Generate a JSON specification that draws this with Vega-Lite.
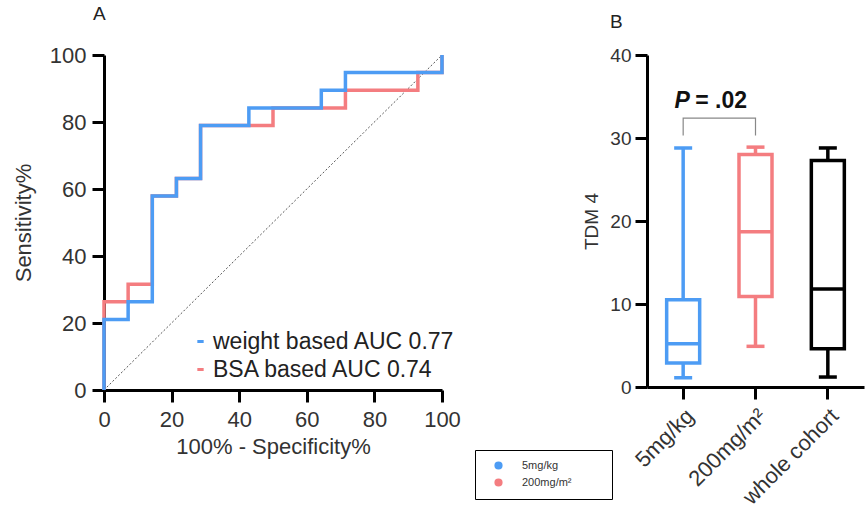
{
  "$schema": "https://vega.github.io/schema/vega-lite/v6.json",
  "background": "white",
  "padding": {"left": 12, "top": 5, "right": 5, "bottom": 5},
  "config": {
    "font": "Liberation Sans",
    "view": {"stroke": null},
    "axis": {
      "domainColor": "black", "domainWidth": 3, "tickColor": "black", "tickWidth": 3, "tickSize": 12,
      "labelColor": "#333", "titleColor": "#333", "grid": false, "titleFontWeight": "normal"
    }
  },
  "datasets": {
    "diag": [{"x": 0, "y": 0, "x2": 100, "y2": 100}],
    "roc": [
      {"s": "weight based AUC 0.77", "i": 0, "x": 0, "y": 0},
      {"s": "weight based AUC 0.77", "i": 1, "x": 0, "y": 21.05},
      {"s": "weight based AUC 0.77", "i": 2, "x": 7.14, "y": 21.05},
      {"s": "weight based AUC 0.77", "i": 3, "x": 7.14, "y": 26.32},
      {"s": "weight based AUC 0.77", "i": 4, "x": 14.29, "y": 26.32},
      {"s": "weight based AUC 0.77", "i": 5, "x": 14.29, "y": 57.89},
      {"s": "weight based AUC 0.77", "i": 6, "x": 21.43, "y": 57.89},
      {"s": "weight based AUC 0.77", "i": 7, "x": 21.43, "y": 63.16},
      {"s": "weight based AUC 0.77", "i": 8, "x": 28.57, "y": 63.16},
      {"s": "weight based AUC 0.77", "i": 9, "x": 28.57, "y": 78.95},
      {"s": "weight based AUC 0.77", "i": 10, "x": 42.86, "y": 78.95},
      {"s": "weight based AUC 0.77", "i": 11, "x": 42.86, "y": 84.21},
      {"s": "weight based AUC 0.77", "i": 12, "x": 64.29, "y": 84.21},
      {"s": "weight based AUC 0.77", "i": 13, "x": 64.29, "y": 89.47},
      {"s": "weight based AUC 0.77", "i": 14, "x": 71.43, "y": 89.47},
      {"s": "weight based AUC 0.77", "i": 15, "x": 71.43, "y": 94.74},
      {"s": "weight based AUC 0.77", "i": 16, "x": 100, "y": 94.74},
      {"s": "weight based AUC 0.77", "i": 17, "x": 100, "y": 100},
      {"s": "BSA based AUC 0.74", "i": 0, "x": 0, "y": 0},
      {"s": "BSA based AUC 0.74", "i": 1, "x": 0, "y": 26.32},
      {"s": "BSA based AUC 0.74", "i": 2, "x": 7.14, "y": 26.32},
      {"s": "BSA based AUC 0.74", "i": 3, "x": 7.14, "y": 31.58},
      {"s": "BSA based AUC 0.74", "i": 4, "x": 14.29, "y": 31.58},
      {"s": "BSA based AUC 0.74", "i": 5, "x": 14.29, "y": 57.89},
      {"s": "BSA based AUC 0.74", "i": 6, "x": 21.43, "y": 57.89},
      {"s": "BSA based AUC 0.74", "i": 7, "x": 21.43, "y": 63.16},
      {"s": "BSA based AUC 0.74", "i": 8, "x": 28.57, "y": 63.16},
      {"s": "BSA based AUC 0.74", "i": 9, "x": 28.57, "y": 78.95},
      {"s": "BSA based AUC 0.74", "i": 10, "x": 50, "y": 78.95},
      {"s": "BSA based AUC 0.74", "i": 11, "x": 50, "y": 84.21},
      {"s": "BSA based AUC 0.74", "i": 12, "x": 71.43, "y": 84.21},
      {"s": "BSA based AUC 0.74", "i": 13, "x": 71.43, "y": 89.47},
      {"s": "BSA based AUC 0.74", "i": 14, "x": 92.86, "y": 89.47},
      {"s": "BSA based AUC 0.74", "i": 15, "x": 92.86, "y": 94.74},
      {"s": "BSA based AUC 0.74", "i": 16, "x": 100, "y": 94.74},
      {"s": "BSA based AUC 0.74", "i": 17, "x": 100, "y": 100}
    ],
    "box": [
      {"g": "5mg/kg", "min": 1.1, "q1": 2.9, "median": 5.2, "q3": 10.5, "max": 28.8},
      {"g": "200mg/m²", "min": 4.9, "q1": 10.9, "median": 18.7, "q3": 28.0, "max": 28.9},
      {"g": "whole cohort", "min": 1.2, "q1": 4.6, "median": 11.8, "q3": 27.3, "max": 28.8}
    ],
    "bracket": [
      {"g": "5mg/kg", "v": 30.3, "o": 1},
      {"g": "5mg/kg", "v": 32.4, "o": 2},
      {"g": "200mg/m²", "v": 32.4, "o": 3},
      {"g": "200mg/m²", "v": 30.3, "o": 4}
    ],
    "ptext": [{"g": "5mg/kg", "v": 34.4}]
  },
  "spacing": 205,
  "bounds": "flush",
  "resolve": {"scale": {"color": "independent", "x": "independent", "y": "independent"}, "legend": {"color": "independent"}},
  "hconcat": [
    {
      "width": 338,
      "height": 335,
      "title": {"text": "A", "anchor": "start", "frame": "group", "dx": -11, "offset": 20, "fontSize": 19, "fontWeight": "normal", "color": "#222"},
      "encoding": {
        "x": {"field": "x", "type": "quantitative", "title": "100% - Specificity%",
          "scale": {"domain": [0, 100], "nice": false},
          "axis": {"values": [0, 20, 40, 60, 80, 100], "labelFontSize": 22, "titleFontSize": 22, "labelPadding": 7, "titlePadding": 6, "labelFlush": false}},
        "y": {"field": "y", "type": "quantitative", "title": "Sensitivity%",
          "scale": {"domain": [0, 100], "nice": false},
          "axis": {"values": [0, 20, 40, 60, 80, 100], "labelFontSize": 22, "titleFontSize": 22, "labelPadding": 6, "titlePadding": 14}}
      },
      "layer": [
        {
          "data": {"name": "diag"},
          "mark": {"type": "rule", "color": "#555", "strokeWidth": 1, "strokeDash": [2, 2]},
          "encoding": {"x2": {"field": "x2"}, "y2": {"field": "y2"}}
        },
        {
          "data": {"name": "roc"},
          "transform": [{"filter": "datum.s == 'BSA based AUC 0.74'"}],
          "mark": {"type": "line", "strokeWidth": 3.5},
          "encoding": {
            "order": {"field": "i", "type": "quantitative"},
            "color": {"field": "s", "type": "nominal",
              "scale": {"domain": ["weight based AUC 0.77", "BSA based AUC 0.74"], "range": ["#4d9cf4", "#f47d80"]},
              "legend": {"orient": "none", "legendX": 85, "legendY": 275, "title": null, "symbolType": "stroke", "symbolSize": 40, "symbolStrokeWidth": 3, "labelFontSize": 23, "labelLimit": 500, "labelColor": "#222", "labelOffset": 1, "rowPadding": 4, "padding": 0}}
          }
        },
        {
          "data": {"name": "roc"},
          "transform": [{"filter": "datum.s == 'weight based AUC 0.77'"}],
          "mark": {"type": "line", "strokeWidth": 3.5},
          "encoding": {
            "order": {"field": "i", "type": "quantitative"},
            "color": {"field": "s", "type": "nominal"}
          }
        }
      ]
    },
    {
      "width": 217,
      "height": 332,
      "title": {"text": "B", "anchor": "start", "frame": "group", "dx": -37, "offset": 14, "fontSize": 19, "fontWeight": "normal", "color": "#222"},
      "encoding": {
        "x": {"field": "g", "type": "nominal", "title": null,
          "sort": ["5mg/kg", "200mg/m²", "whole cohort"],
          "scale": {"type": "band", "domain": ["5mg/kg", "200mg/m²", "whole cohort"], "paddingInner": 0, "paddingOuter": 0},
          "axis": {"labelAngle": -45, "labelFontSize": 22, "labelPadding": 6}}
      },
      "layer": [
        {
          "data": {"name": "box"},
          "layer": [
            {
              "mark": {"type": "tick", "size": 18, "thickness": 3.5, "opacity": 1},
              "encoding": {
                "y": {"field": "max", "type": "quantitative", "title": "TDM 4",
                  "scale": {"domain": [0, 40], "nice": false},
                  "axis": {"values": [0, 10, 20, 30, 40], "labelFontSize": 19, "titleFontSize": 19, "labelPadding": 4, "titlePadding": 8}},
                "color": {"field": "g", "type": "nominal",
                  "scale": {"domain": ["5mg/kg", "200mg/m²", "whole cohort"], "range": ["#4d9cf4", "#f47d80", "#000000"]},
                  "legend": {"values": ["5mg/kg", "200mg/m²"], "orient": "none", "legendX": -172, "legendY": 395, "title": "\u00a0", "titleOrient": "right", "titlePadding": 30, "titleFontSize": 11, "strokeColor": "black", "padding": 10, "symbolType": "circle", "symbolSize": 45, "symbolOffset": 8, "labelFontSize": 11, "labelColor": "#333", "labelOffset": 18, "rowPadding": 4,
                    "encode": {"legend": {"update": {"strokeWidth": {"value": 1.5}}}}}}
              }
            },
            {
              "mark": {"type": "tick", "size": 18, "thickness": 3.5, "opacity": 1},
              "encoding": {"y": {"field": "min", "type": "quantitative", "title": "TDM 4"}, "color": {"field": "g", "type": "nominal"}}
            },
            {
              "mark": {"type": "rule", "strokeWidth": 3.5},
              "encoding": {"y": {"field": "min", "type": "quantitative", "title": "TDM 4"}, "y2": {"field": "q1"}, "color": {"field": "g", "type": "nominal"}}
            },
            {
              "mark": {"type": "rule", "strokeWidth": 3.5},
              "encoding": {"y": {"field": "q3", "type": "quantitative", "title": "TDM 4"}, "y2": {"field": "max"}, "color": {"field": "g", "type": "nominal"}}
            },
            {
              "mark": {"type": "bar", "filled": false, "size": 33, "strokeWidth": 3.5},
              "encoding": {"y": {"field": "q1", "type": "quantitative", "title": "TDM 4"}, "y2": {"field": "q3"}, "color": {"field": "g", "type": "nominal"}}
            },
            {
              "mark": {"type": "tick", "size": 33, "thickness": 3.5, "opacity": 1},
              "encoding": {"y": {"field": "median", "type": "quantitative", "title": "TDM 4"}, "color": {"field": "g", "type": "nominal"}}
            }
          ]
        },
        {
          "data": {"name": "bracket"},
          "mark": {"type": "line", "color": "#888", "strokeWidth": 1.2},
          "encoding": {
            "y": {"field": "v", "type": "quantitative", "title": "TDM 4"},
            "order": {"field": "o", "type": "quantitative"}
          }
        },
        {
          "data": {"name": "ptext"},
          "mark": {"type": "text", "text": "P", "fontStyle": "italic", "fontWeight": "bold", "fontSize": 23, "align": "center", "baseline": "middle", "dx": -1, "color": "#111"},
          "encoding": {"y": {"field": "v", "type": "quantitative", "title": "TDM 4"}}
        },
        {
          "data": {"name": "ptext"},
          "mark": {"type": "text", "text": "= .02", "fontWeight": "bold", "fontSize": 23, "align": "left", "baseline": "middle", "dx": 12, "color": "#111"},
          "encoding": {"y": {"field": "v", "type": "quantitative", "title": "TDM 4"}}
        }
      ]
    }
  ]
}
